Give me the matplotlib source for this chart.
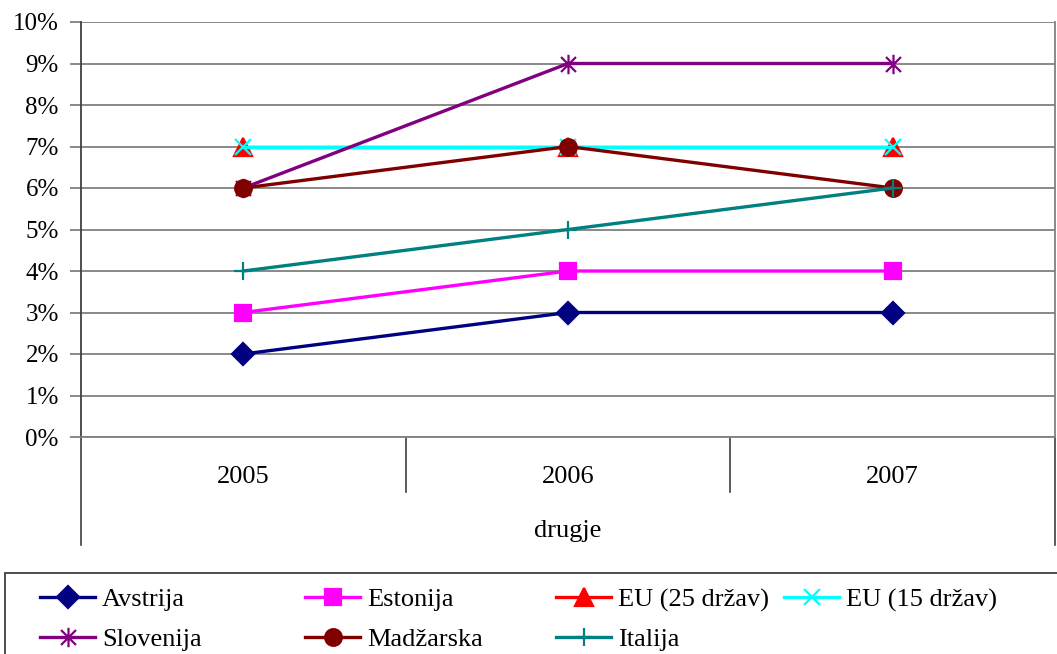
import numpy as np
import matplotlib
matplotlib.use('Agg')
import matplotlib.pyplot as plt
from matplotlib.path import Path
from matplotlib.ticker import FuncFormatter

plt.rcParams['font.family'] = ['Liberation Serif', 'DejaVu Serif']

years = ['2005', '2006', '2007']
group_label = 'drugje'
avstrija = [2, 3, 3]
estonija = [3, 4, 4]
eu25 = [7, 7, 7]
eu15 = [7, 7, 7]
slovenija = [6, 9, 9]
madzarska = [6, 7, 6]
italija = [4, 5, 6]

# excel-like star: an x plus a vertical bar
star = Path([(-1, -1), (1, 1), (-1, 1), (1, -1), (0, -1.3), (0, 1.3)],
            [Path.MOVETO, Path.LINETO, Path.MOVETO, Path.LINETO,
             Path.MOVETO, Path.LINETO])

series = [
    ('Avstrija', avstrija, '#000080', 'D', 11),
    ('Estonija', estonija, '#FF00FF', 's', 11),
    ('EU (25 držav)', eu25, '#FF0000', '^', 13),
    ('EU (15 držav)', eu15, '#00FFFF', 'x', 12),
    ('Slovenija', slovenija, '#800080', star, 14),
    ('Madžarska', madzarska, '#800000', 'o', 12),
    ('Italija', italija, '#008080', '+', 13),
]

fig = plt.figure(figsize=(10.57, 6.54), dpi=100)
ax = fig.add_axes([81/1057, 1-437/654, 974/1057, 415/654])

x = np.arange(len(years))
lines = []
for name, vals, col, mk, ms in series:
    ln, = ax.plot(x, vals, color=col, lw=2.4, marker=mk, ms=ms,
                  mec=col, mfc=col, mew=1.6, label=name, clip_on=False,
                  zorder=3)
    lines.append(ln)

ax.set_xlim(-0.5, 2.5)
ax.set_ylim(0, 10)
ax.set_yticks(range(0, 11))
ax.yaxis.set_major_formatter(FuncFormatter(lambda v, p: '%d%%' % v))
ax.grid(axis='y', color='#808080', lw=1.3, zorder=1)
ax.tick_params(axis='y', length=8, width=1.3, color='#808080',
               labelsize=18, pad=8)
ax.set_xticks([])
ax.spines['top'].set_visible(False)
ax.spines['bottom'].set_color('#808080')
ax.spines['bottom'].set_linewidth(1.3)
ax.spines['left'].set_color('#404040')
ax.spines['left'].set_linewidth(1.3)
ax.spines['right'].set_color('#808080')
ax.spines['right'].set_linewidth(1.3)

# multi-level category axis
tr = ax.transAxes
for i in range(1, len(years)):
    ax.plot([i/len(years)]*2, [0, -0.1325], color='#404040', lw=1.2,
            transform=tr, clip_on=False)
for xe in [0, 1]:
    ax.plot([xe]*2, [0, -0.26], color='#404040', lw=1.2,
            transform=tr, clip_on=False)
for i, yr in enumerate(years):
    ax.text(i, -0.097, yr, transform=ax.get_xaxis_transform(),
            ha='center', va='center', fontsize=19)
ax.text(0.5, -0.226, group_label, transform=tr, ha='center', va='center',
        fontsize=19)

# legend filled row by row like excel: one small legend per column
columns = [[0, 4], [1, 5], [2, 6], [3]]
col_x = [40, 305, 556, 784]
for idx, cx in zip(columns, col_x):
    leg = fig.legend([lines[i] for i in idx], [series[i][0] for i in idx],
                     loc='upper left', bbox_to_anchor=(cx/1057, 1-588/654),
                     fontsize=19, handlelength=2.1, handletextpad=0.25,
                     labelspacing=0.6, frameon=False,
                     borderaxespad=0, borderpad=0)
fig.patches.append(plt.Rectangle((5/1057, -0.05), 1.1, 1-573/654+0.05,
                                 transform=fig.transFigure, fill=False,
                                 edgecolor='#404040', lw=1.3))

fig.savefig('out.png', dpi=100)
